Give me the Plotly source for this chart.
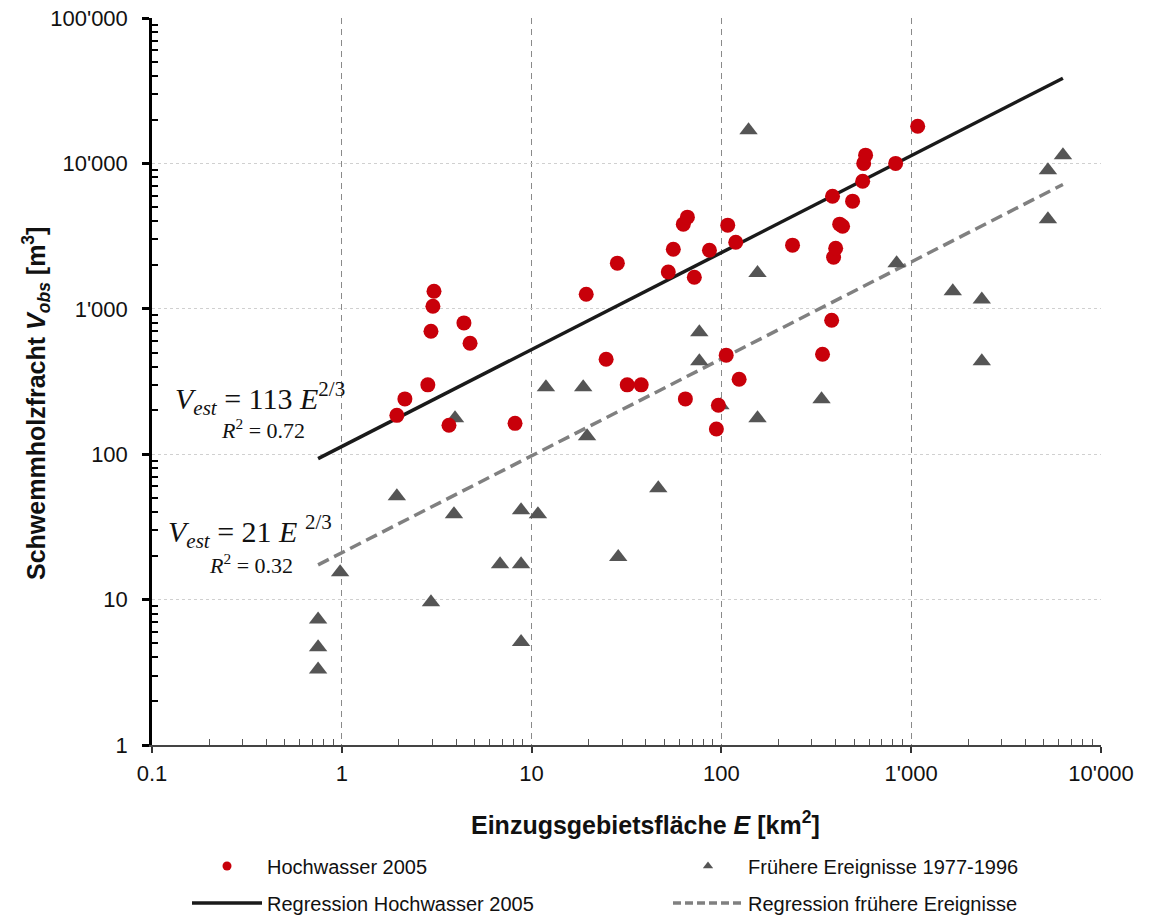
import plotly.graph_objects as go

# ---------------- data ----------------
hw_E = [1.95, 2.15, 2.84, 2.95, 3.02, 3.06, 3.67, 4.40, 4.74, 8.18, 19.4, 24.7, 28.3, 31.9, 37.8,
        52.5, 55.8, 63.0, 66.2, 72.0, 64.6, 86.5, 94.1, 96.4, 106, 108, 119, 124, 237, 341,
        381, 390, 400, 420, 435, 385, 491, 555, 562, 575, 828, 1082]
hw_V = [185, 240, 300, 700, 1040, 1320, 158, 800, 580, 163, 1260, 450, 2060, 300, 300,
        1790, 2570, 3820, 4270, 1650, 240, 2530, 149, 217, 480, 3760, 2870, 328, 2740, 487,
        835, 2260, 2610, 3820, 3700, 5950, 5500, 7540, 10000, 11400, 10000, 18000]

fr_E = [0.75, 0.75, 0.75, 0.98, 1.95, 2.95, 3.90, 3.95, 6.82, 8.80, 8.80, 8.80, 10.8, 11.9,
        18.7, 19.6, 28.6, 46.5, 76.5, 76.5, 98.8, 139, 155, 155, 337, 838, 1656, 2355, 2355,
        5253, 6303, 5253]
fr_V = [7.3, 4.7, 3.3, 15.4, 51.4, 9.6, 38.7, 177, 17.5, 41.2, 17.5, 5.1, 38.7, 289,
        289, 133, 19.6, 58.4, 690, 436, 217, 16900, 1760, 177, 239, 2060, 1320, 1160, 436,
        8980, 11400, 4130]

reg_E = [0.75, 6300]
coef_hw = 113
coef_fr = 21
exponent = 2 / 3
reg_hw_V = [coef_hw * e ** exponent for e in reg_E]
reg_fr_V = [coef_fr * e ** exponent for e in reg_E]

x_ticks = [0.1, 1, 10, 100, 1000, 10000]
x_ticktext = ["0.1", "1", "10", "100", "1'000", "10'000"]
y_ticks = [1, 10, 100, 1000, 10000, 100000]
y_ticktext = ["1", "10", "100", "1'000", "10'000", "100'000"]

x_minor = [m * d for d in [0.1, 1, 10, 100, 1000] for m in range(2, 10)]
y_minor = [m * d for d in [1, 10, 100, 1000, 10000] for m in range(2, 10)]

RED = "#C8000A"
GREY = "#555555"

fig = go.Figure()

fig.add_trace(go.Scatter(x=reg_E, y=reg_fr_V, mode="lines", showlegend=False,
                         line=dict(color="#808080", width=3.5, dash="12px,6px")))
fig.add_trace(go.Scatter(x=reg_E, y=reg_hw_V, mode="lines", showlegend=False,
                         line=dict(color="#1a1a1a", width=3.5)))
fig.add_trace(go.Scatter(x=fr_E, y=fr_V, mode="markers", showlegend=False,
                         marker=dict(symbol="triangle-up", size=16, color=GREY)))
fig.add_trace(go.Scatter(x=hw_E, y=hw_V, mode="markers", showlegend=False,
                         marker=dict(symbol="circle", size=15, color=RED)))

# legend entries (one legend box per entry, 2 x 2 grid)
fig.add_trace(go.Scatter(x=[None], y=[None], mode="markers", name="Hochwasser 2005",
                         marker=dict(symbol="circle", size=9, color=RED), legend="legend"))
fig.add_trace(go.Scatter(x=[None], y=[None], mode="markers", name="Frühere Ereignisse 1977-1996",
                         marker=dict(symbol="triangle-up", size=9, color=GREY), legend="legend2"))
fig.add_trace(go.Scatter(x=[None], y=[None], mode="lines", name="Regression Hochwasser 2005",
                         line=dict(color="#1a1a1a", width=3.5), legend="legend3"))
fig.add_trace(go.Scatter(x=[None], y=[None], mode="lines", name="Regression frühere Ereignisse",
                         line=dict(color="#808080", width=3.5, dash="8px,4px"), legend="legend4"))

OFF = 8  # page body margin
W, H = 1142, 910
L, T = 152 - OFF, 18 - OFF
pw, ph = 949, 727
R = W - L - pw
B = H - T - ph


def px(page_x):
    return (page_x - OFF - L) / pw


def py(page_y):
    return (H - B - (page_y - OFF)) / ph


leg_common = dict(orientation="h", xanchor="left", yanchor="middle", itemwidth=70,
                  font=dict(size=20, color="#111111"), bgcolor="rgba(0,0,0,0)")

fig.update_layout(
    width=W, height=H,
    margin=dict(l=L, r=R, t=T, b=B, autoexpand=False),
    paper_bgcolor="white", plot_bgcolor="white",
    font=dict(family="Liberation Sans, Arial, sans-serif", color="#111111"),
    legend=dict(x=px(187), y=py(866), **leg_common),
    legend2=dict(x=px(668), y=py(866), **leg_common),
    legend3=dict(x=px(187), y=py(903), **leg_common),
    legend4=dict(x=px(668), y=py(903), **leg_common),
)

fig.update_xaxes(
    type="log", range=[-1, 4], automargin=False,
    tickmode="array", tickvals=x_ticks, ticktext=x_ticktext,
    tickfont=dict(size=22, color="#111111"),
    ticks="outside", ticklen=6, tickwidth=1.5, tickcolor="#333333",
    ticklabelstandoff=2, ticklabeloverflow="allow",
    showline=True, linecolor="#444444", linewidth=1.5,
    showgrid=True, gridcolor="#8a8a8a", gridwidth=1.3, griddash="6px,5px",
    zeroline=False,
    minor=dict(tickmode="array", tickvals=x_minor, ticks="inside", ticklen=6,
               tickwidth=1, tickcolor="#555555", showgrid=False),
)

fig.update_yaxes(
    type="log", range=[0, 5], automargin=False,
    tickmode="array", tickvals=y_ticks, ticktext=y_ticktext,
    tickfont=dict(size=22, color="#111111"),
    ticks="outside", ticklen=7, tickwidth=2.5, tickcolor="#000000",
    ticklabelstandoff=10, ticklabeloverflow="allow",
    showline=True, linecolor="#000000", linewidth=2.5,
    showgrid=True, gridcolor="#d0d0d0", gridwidth=1, griddash="dot",
    zeroline=False,
    minor=dict(tickmode="array", tickvals=y_minor, ticks="inside", ticklen=6,
               tickwidth=2, tickcolor="#000000", showgrid=False),
)

serif = "Liberation Serif, DejaVu Serif, serif"
ann = [
    # axis titles
    dict(x=px(645), y=py(823), xanchor="center", yanchor="middle",
         text="<b>Einzugsgebietsfläche <i>E</i> [km<sup>2</sup>]</b>",
         font=dict(size=25, color="#111111")),
    dict(x=px(36), y=py(404), xanchor="center", yanchor="middle", textangle=-90,
         text="<b>Schwemmholzfracht <i>V</i><sub><i>obs</i></sub> [m<sup>3</sup>]</b>",
         font=dict(size=25, color="#111111")),
    # regression equations
    dict(x=px(173), y=py(398), xanchor="left", yanchor="middle",
         text="<i>V</i><sub><i>est</i></sub> = 113 <i>E</i><sup>2/3</sup>",
         font=dict(family=serif, size=30, color="#111111")),
    dict(x=px(263), y=py(429), xanchor="center", yanchor="middle",
         text="<i>R</i><sup>2</sup> = 0.72",
         font=dict(family=serif, size=22, color="#111111")),
    dict(x=px(166), y=py(531), xanchor="left", yanchor="middle",
         text="<i>V</i><sub><i>est</i></sub> = 21 <i>E</i> <sup>2/3</sup>",
         font=dict(family=serif, size=30, color="#111111")),
    dict(x=px(251), y=py(564), xanchor="center", yanchor="middle",
         text="<i>R</i><sup>2</sup> = 0.32",
         font=dict(family=serif, size=22, color="#111111")),
]
for a in ann:
    a.update(xref="paper", yref="paper", showarrow=False)
fig.update_layout(annotations=ann)

fig.write_html("out.html")
